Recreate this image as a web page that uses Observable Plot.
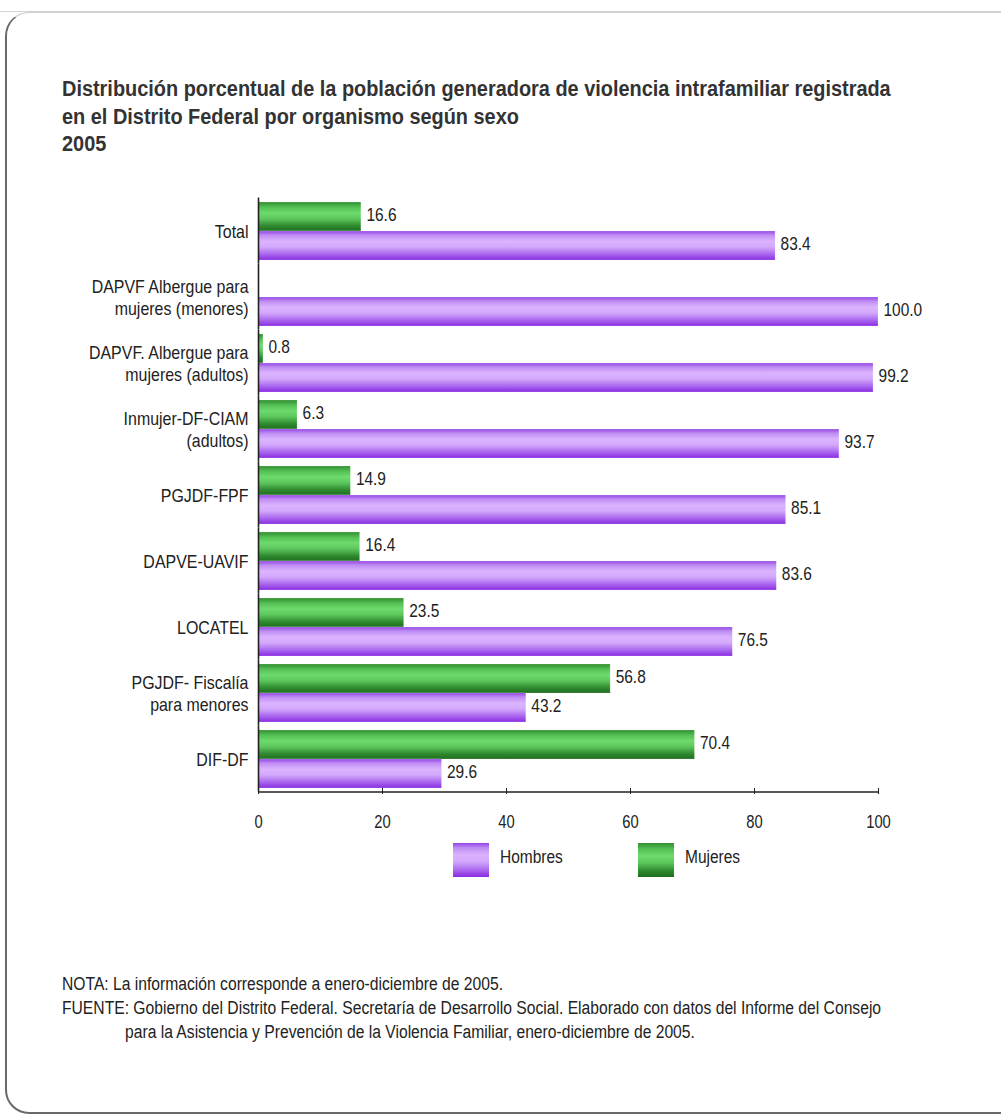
<!DOCTYPE html>
<html>
<head>
<meta charset="utf-8">
<script src="https://cdn.jsdelivr.net/npm/d3@7"></script>
<script src="https://cdn.jsdelivr.net/npm/@observablehq/plot@0.6"></script>
<style>
  html, body { margin: 0; padding: 0; background: #fff; }
  body { width: 1001px; height: 1114px; position: relative; overflow: hidden;
         font-family: "Liberation Sans", Arial, sans-serif; color: #222; }
  #topline { position: absolute; left: 0; top: 11px; width: 1001px; height: 0; border-top: 1px solid #d4d4d4; }
  #box { position: absolute; left: 5px; top: 12px; width: 1100px; height: 1099px;
         border-left: 2px solid #6a6a6a; border-top: 1px solid #cfcfcf; border-bottom: 2px solid #6a6a6a;
         border-top-left-radius: 24px; border-bottom-left-radius: 24px; }
  .tl { position: absolute; left: 62px; font-weight: bold; font-size: 22px; line-height: 27.5px;
        color: #333; white-space: pre; transform: scaleX(0.905); transform-origin: 0 0; }
  #chart { position: absolute; left: 0; top: 180px; }
  #legend { position: absolute; left: 0; top: 843px; width: 1001px; height: 34px; }
  .sw { position: absolute; top: 0; width: 36px; height: 34px; }
  .lt { position: absolute; top: 0; line-height: 28px; font-size: 18px; color: #222;
        transform: scaleX(0.86); transform-origin: 0 0; white-space: pre; }
  .nl { position: absolute; font-size: 18px; line-height: 24px; color: #222; white-space: pre;
        transform: scaleX(0.87); transform-origin: 0 0; }
</style>
</head>
<body>
<div id="topline"></div>
<div id="box"></div>
<div id="title"></div>
<div id="chart"></div>
<div id="legend"></div>
<div id="notes"></div>
<script>
// ---- data ----
const categories = [
  "Total",
  "DAPVF Albergue para\nmujeres (menores)",
  "DAPVF. Albergue para\nmujeres (adultos)",
  "Inmujer-DF-CIAM\n(adultos)",
  "PGJDF-FPF",
  "DAPVE-UAVIF",
  "LOCATEL",
  "PGJDF- Fiscalía\npara menores",
  "DIF-DF"
];
const hombres = [83.4, 100.0, 99.2, 93.7, 85.1, 83.6, 76.5, 43.2, 29.6];
const mujeres = [16.6, 0.0, 0.8, 6.3, 14.9, 16.4, 23.5, 56.8, 70.4];
const series = ["Mujeres", "Hombres"];
const xTicks = [0, 20, 40, 60, 80, 100];

const titleLines = [
  "Distribución porcentual de la población generadora de violencia intrafamiliar registrada",
  "en el Distrito Federal por organismo según sexo",
  "2005"
];
const noteLines = [
  "NOTA: La información corresponde a enero-diciembre de 2005.",
  "FUENTE: Gobierno del Distrito Federal. Secretaría de Desarrollo Social. Elaborado con datos del Informe del Consejo",
  "para la Asistencia y Prevención de la Violencia Familiar, enero-diciembre de 2005."
];

const colors = {Hombres: "url(#gradH)", Mujeres: "url(#gradM)"};

const rows = [];
categories.forEach((c, i) => {
  rows.push({cat: c, sex: "Mujeres", value: mujeres[i]});
  rows.push({cat: c, sex: "Hombres", value: hombres[i]});
});

// title
const titleEl = document.getElementById("title");
titleLines.forEach((t, i) => {
  const d = document.createElement("div");
  d.className = "tl"; d.style.top = (75 + i * 27.5) + "px"; d.textContent = t;
  titleEl.appendChild(d);
});
// notes
const notesEl = document.getElementById("notes");
const noteLeft = [62, 62, 125];
noteLines.forEach((t, i) => {
  const d = document.createElement("div");
  d.className = "nl"; d.style.left = noteLeft[i] + "px"; d.style.top = (972 + i * 24) + "px"; d.textContent = t;
  notesEl.appendChild(d);
});

const FONT = '"Liberation Sans", Arial, sans-serif';

const plot = Plot.plot({
  width: 1001,
  height: 660,
  marginLeft: 258,
  marginRight: 123,
  marginTop: 17,
  marginBottom: 48,
  style: {fontFamily: FONT, fontSize: "18px", color: "#222", background: "transparent"},
  x: {domain: [0, 100], axis: null},
  y: {domain: series, axis: null, padding: 0},
  fy: {domain: categories, paddingInner: 0.1, paddingOuter: 0.05, axis: null, label: null},
  marks: [
    Plot.barX(rows, {fy: "cat", y: "sex", x: "value", fill: d => colors[d.sex], stroke: "#ffffff", strokeOpacity: 0.35, strokeWidth: 0.6}),
    Plot.text(rows.filter(d => d.value > 0), {fy: "cat", y: "sex", x: "value", text: d => d.value.toFixed(1),
      textAnchor: "start", dx: 5, dy: -2, fill: "#222"}),
    Plot.ruleX([0], {stroke: "#222", strokeWidth: 1.6, insetTop: -3.5, insetBottom: -3.5}),
    Plot.axisFy({anchor: "left", tickSize: 0, tickPadding: 10, lineHeight: 1.2, fill: "#222", label: null}),
    Plot.axisX({ticks: xTicks, tickSize: 6, tickPadding: 21, stroke: "#222", fill: "#222", label: null, tickFormat: d => String(d)})
  ]
});

// gradients
const ns = "http://www.w3.org/2000/svg";
const defs = document.createElementNS(ns, "defs");
function grad(id, stops) {
  const g = document.createElementNS(ns, "linearGradient");
  g.setAttribute("id", id);
  g.setAttribute("x1", "0"); g.setAttribute("y1", "0");
  g.setAttribute("x2", "0"); g.setAttribute("y2", "1");
  stops.forEach(([o, c]) => {
    const s = document.createElementNS(ns, "stop");
    s.setAttribute("offset", o); s.setAttribute("stop-color", c);
    g.appendChild(s);
  });
  defs.appendChild(g);
}
grad("gradH", [[0, "#9446e4"], [0.15, "#c08ef4"], [0.35, "#dbb3ff"], [0.55, "#d3a8fc"], [0.8, "#a966ee"], [1, "#8a2be2"]]);
grad("gradM", [[0, "#2f8e2f"], [0.18, "#55c055"], [0.38, "#6edb6e"], [0.58, "#5cc65c"], [0.82, "#2f8a2f"], [1, "#1f6e1f"]]);
plot.insertBefore(defs, plot.firstChild);

// condense text horizontally around each text's own anchor point (x only)
function condense(selector, s) {
  plot.querySelectorAll(selector).forEach(t => {
    let x = parseFloat(t.getAttribute("x"));
    if (!isFinite(x)) x = 0;
    const tr = t.getAttribute("transform") || "";
    t.setAttribute("transform", `${tr} translate(${x},0) scale(${s},1) translate(${-x},0)`.trim());
  });
}
condense('g[aria-label="x-axis tick label"] text', 0.82);
condense('g[aria-label="fy-axis tick label"] text', 0.886);
condense('g[aria-label="text"] text', 0.86);

// bottom axis line, from the x scale's range
const xs = plot.scale("x");
const line = document.createElementNS(ns, "line");
line.setAttribute("x1", xs.range[0]); line.setAttribute("x2", xs.range[1]);
line.setAttribute("y1", 660 - 48); line.setAttribute("y2", 660 - 48);
line.setAttribute("stroke", "#222"); line.setAttribute("stroke-width", "1.6");
plot.appendChild(line);

document.getElementById("chart").appendChild(plot);

// legend
const legend = document.getElementById("legend");
const legendItems = [
  {name: "Hombres", css: "linear-gradient(#9446e4, #c08ef4 15%, #dbb3ff 35%, #d3a8fc 55%, #a966ee 80%, #8a2be2)", sx: 453, tx: 500},
  {name: "Mujeres", css: "linear-gradient(#2f8e2f, #55c055 18%, #6edb6e 38%, #5cc65c 58%, #2f8a2f 82%, #1f6e1f)", sx: 638, tx: 685}
];
legendItems.forEach(it => {
  const s = document.createElement("div");
  s.className = "sw"; s.style.left = it.sx + "px"; s.style.background = it.css;
  legend.appendChild(s);
  const t = document.createElement("div");
  t.className = "lt"; t.style.left = it.tx + "px"; t.textContent = it.name;
  legend.appendChild(t);
});
</script>
</body>
</html>
